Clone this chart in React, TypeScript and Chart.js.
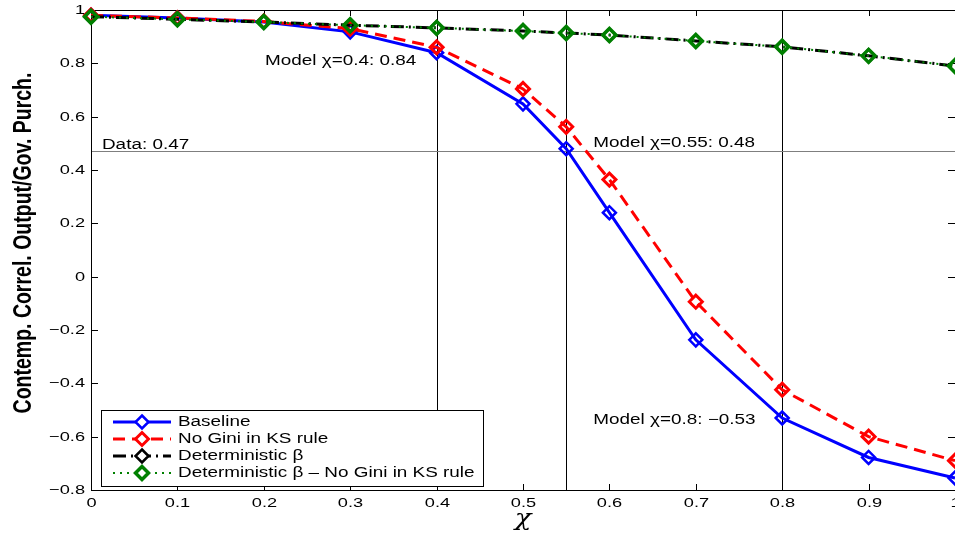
import React, { useEffect, useRef } from "react";
import { Chart, registerables } from "chart.js";

Chart.register(...registerables);

// ---- Data ----
const chiValues = [0, 0.1, 0.2, 0.3, 0.4, 0.5, 0.55, 0.6, 0.7, 0.8, 0.9, 1.0];
const baseline = [0.98, 0.97, 0.955, 0.918, 0.84, 0.648, 0.48, 0.24, -0.237, -0.53, -0.678, -0.755];
const noGini = [0.98, 0.97, 0.957, 0.93, 0.86, 0.704, 0.562, 0.364, -0.094, -0.424, -0.6, -0.69];
const deterministic = [0.975, 0.965, 0.955, 0.943, 0.933, 0.921, 0.914, 0.906, 0.884, 0.862, 0.828, 0.79];
const deterministicNoGini = [0.975, 0.965, 0.955, 0.943, 0.933, 0.921, 0.914, 0.906, 0.884, 0.862, 0.828, 0.79];
const seriesLabels = [
  "Baseline",
  "No Gini in KS rule",
  "Deterministic \u03B2",
  "Deterministic \u03B2 \u2013 No Gini in KS rule",
];
const dataValue = 0.47;
const modelChis = [0.4, 0.55, 0.8];
const annotationTexts = [
  "Data: 0.47",
  "Model \u03C7=0.4: 0.84",
  "Model \u03C7=0.55: 0.48",
  "Model \u03C7=0.8: \u22120.53",
];
const yTitle = "Contemp. Correl. Output/Gov. Purch.";
const xTitle = "\u03C7";

const FONT = '"Liberation Sans", Arial, Helvetica, sans-serif';
const SX = 1.35;

function drawText(
  ctx: CanvasRenderingContext2D,
  text: string,
  x: number,
  y: number,
  size: number,
  align: CanvasTextAlign,
  weight = "normal",
  sx = SX,
  family = FONT
) {
  ctx.save();
  ctx.translate(x, y);
  ctx.scale(sx, 1);
  ctx.font = `${weight} ${size}px ${family}`;
  ctx.textAlign = align;
  ctx.textBaseline = "middle";
  ctx.fillStyle = "#000";
  ctx.fillText(text, 0, 0);
  ctx.restore();
}

function fmt(v: number) {
  const r = Math.round(v * 10) / 10;
  if (r === 0) return "0";
  const s = String(Math.abs(r));
  return r < 0 ? "\u2212" + s : s;
}

function diamond(ctx: CanvasRenderingContext2D, x: number, y: number, r: number) {
  ctx.beginPath();
  ctx.moveTo(x, y - r);
  ctx.lineTo(x + r, y);
  ctx.lineTo(x, y + r);
  ctx.lineTo(x - r, y);
  ctx.closePath();
}

export default function App() {
  const ref = useRef<HTMLCanvasElement>(null);

  useEffect(() => {
    const canvas = ref.current!;
    const annotationAnchors = [
      { x: 0.0127, y: 0.494 },
      { x: 0.2014, y: 0.809 },
      { x: 0.5814, y: 0.5 },
      { x: 0.5814, y: -0.5375 },
    ];

    const decor = {
      id: "matlabDecor",
      beforeDatasetsDraw(chart: any) {
        const { ctx, chartArea: a, scales } = chart;
        const x = scales.x;
        const y = scales.y;
        ctx.save();
        ctx.lineWidth = 1;
        // reference lines
        ctx.strokeStyle = "#000";
        modelChis.forEach((v) => {
          const px = Math.round(x.getPixelForValue(v)) + 0.5;
          ctx.beginPath();
          ctx.moveTo(px, a.top);
          ctx.lineTo(px, a.bottom);
          ctx.stroke();
        });
        ctx.strokeStyle = "#7f7f7f";
        const py = Math.round(y.getPixelForValue(dataValue)) + 0.5;
        ctx.beginPath();
        ctx.moveTo(a.left, py);
        ctx.lineTo(a.right, py);
        ctx.stroke();

        // frame
        ctx.strokeStyle = "#000";
        ctx.strokeRect(Math.round(a.left) + 0.5, Math.round(a.top) + 0.5, Math.round(a.right - a.left), Math.round(a.bottom - a.top));

        // inward ticks + tick labels
        x.ticks.forEach((t: any) => {
          const px = Math.round(x.getPixelForValue(t.value)) + 0.5;
          ctx.beginPath();
          ctx.moveTo(px, a.bottom);
          ctx.lineTo(px, a.bottom - 6);
          ctx.moveTo(px, a.top);
          ctx.lineTo(px, a.top + 6);
          ctx.stroke();
          drawText(ctx, fmt(t.value), px, a.bottom + 13, 13, "center", "normal", 1.4);
        });
        y.ticks.forEach((t: any) => {
          const p = Math.round(y.getPixelForValue(t.value)) + 0.5;
          ctx.beginPath();
          ctx.moveTo(a.left, p);
          ctx.lineTo(a.left + 7, p);
          ctx.moveTo(a.right, p);
          ctx.lineTo(a.right - 7, p);
          ctx.stroke();
          drawText(ctx, fmt(t.value), a.left - 6, p, 13, "right", "normal", 1.4);
        });

        // annotations
        annotationTexts.forEach((txt, i) => {
          const an = annotationAnchors[i];
          drawText(ctx, txt, x.getPixelForValue(an.x), y.getPixelForValue(an.y), 14, "left");
        });

        // axis titles
        drawText(ctx, xTitle, (a.left + a.right) / 2, a.bottom + 29, 22, "center", "italic", 1.25, '"DejaVu Serif", "Liberation Serif", serif');
        ctx.save();
        ctx.translate(24, 243);
        ctx.rotate(-Math.PI / 2);
        ctx.scale(1, 1.3);
        ctx.font = `bold 19.5px ${FONT}`;
        ctx.textAlign = "center";
        ctx.textBaseline = "middle";
        ctx.fillStyle = "#000";
        ctx.fillText(yTitle, 0, 0);
        ctx.restore();

        ctx.restore();
      },
      afterDatasetsDraw(chart: any) {
        const { ctx, chartArea: a } = chart;
        ctx.save();
        const bx = a.left + 10;
        const by = a.bottom - 80;
        const bw = 382;
        const bh = 76;
        ctx.fillStyle = "#fff";
        ctx.fillRect(bx, by, bw, bh);
        ctx.strokeStyle = "#000";
        ctx.lineWidth = 1;
        ctx.strokeRect(bx + 0.5, by + 0.5, bw, bh);
        chart.data.datasets.forEach((ds: any, i: number) => {
          const ry = by + 12 + i * 17;
          ctx.save();
          ctx.strokeStyle = ds.borderColor;
          ctx.lineWidth = ds.borderWidth;
          ctx.setLineDash(ds.borderDash || []);
          ctx.beginPath();
          ctx.moveTo(bx + 12, ry);
          ctx.lineTo(bx + 70, ry);
          ctx.stroke();
          ctx.setLineDash([]);
          ctx.lineWidth = ds.pointBorderWidth;
          diamond(ctx, bx + 41, ry, ds.pointRadius);
          ctx.fillStyle = "#fff";
          ctx.fill();
          ctx.stroke();
          ctx.restore();
          drawText(ctx, ds.label, bx + 77, ry, 14, "left");
        });
        ctx.restore();
      },
    };

    const mk = (vals: number[]) => chiValues.map((c, i) => ({ x: c, y: vals[i] }));
    const common = {
      pointStyle: "rectRot",
      pointRadius: 6.5,
      pointBackgroundColor: "rgba(0,0,0,0)",
      fill: false,
      tension: 0,
      clip: false,
    };

    const chart = new Chart(canvas, {
      type: "line",
      data: {
        datasets: [
          { ...common, label: seriesLabels[0], data: mk(baseline), borderColor: "#0000ff", pointBorderColor: "#0000ff", borderWidth: 3, pointBorderWidth: 2.5, borderDash: [], order: 3 },
          { ...common, label: seriesLabels[1], data: mk(noGini), borderColor: "#ff0000", pointBorderColor: "#ff0000", borderWidth: 3, pointBorderWidth: 3, borderDash: [12, 7], order: 2 },
          { ...common, label: seriesLabels[2], data: mk(deterministic), borderColor: "#000000", pointBorderColor: "#000000", borderWidth: 3, pointBorderWidth: 2.5, borderDash: [13, 5, 2, 5], order: 1 },
          { ...common, label: seriesLabels[3], data: mk(deterministicNoGini), borderColor: "#008000", pointBorderColor: "#008000", borderWidth: 2, pointBorderWidth: 3.5, borderDash: [2, 5], order: 0 },
        ] as any,
      },
      options: {
        responsive: false,
        animation: false,
        events: [],
        layout: { padding: { top: 10, right: 20, left: 0, bottom: 0 } },
        plugins: { legend: { display: false }, tooltip: { enabled: false } },
        scales: {
          x: {
            type: "linear",
            min: 0,
            max: 1,
            ticks: { stepSize: 0.1, display: false },
            grid: { display: false },
            border: { display: false },
            afterFit: (s: any) => {
              s.height = 43;
            },
          },
          y: {
            type: "linear",
            min: -0.8,
            max: 1,
            ticks: { stepSize: 0.2, display: false },
            grid: { display: false },
            border: { display: false },
            afterFit: (s: any) => {
              s.width = 91;
            },
          },
        },
      } as any,
      plugins: [decor],
    });
    return () => chart.destroy();
  }, []);

  return (
    <div
      style={{
        position: "fixed",
        left: 0,
        top: 0,
        width: 955,
        height: 533,
        overflow: "hidden",
        background: "#fff",
      }}
    >
      <canvas ref={ref} width={975} height={533} style={{ display: "block", width: 975, height: 533 }} />
    </div>
  );
}
